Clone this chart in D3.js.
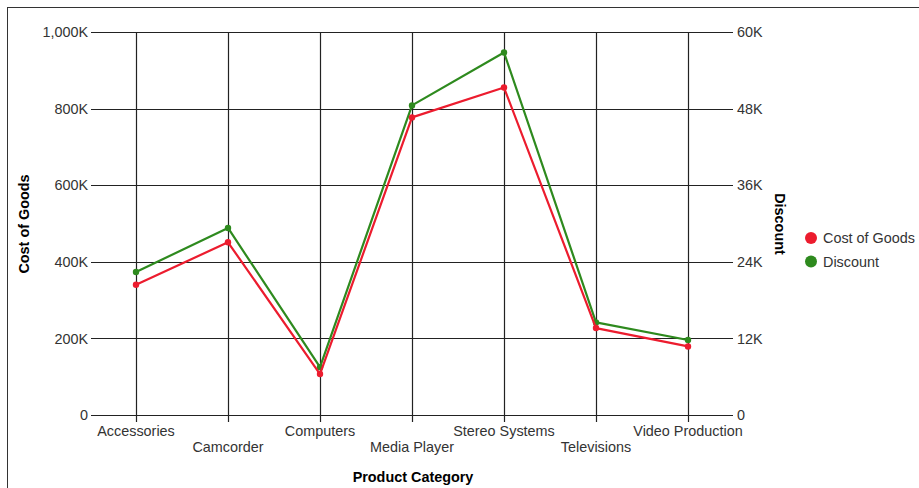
<!DOCTYPE html>
<html><head><meta charset="utf-8">
<script src="https://cdn.jsdelivr.net/npm/d3@7"></script>
<style>
body{margin:0;background:#fff;}
text{font-family:"Liberation Sans",Arial,sans-serif;}
</style></head>
<body><svg id="c" width="919" height="488"></svg>
<script>
const categories = ["Accessories","Camcorder","Computers","Media Player","Stereo Systems","Televisions","Video Production"];
const costOfGoods = [340000, 451000, 107000, 777000, 855000, 227000, 179000];
const discount = [22400, 29300, 7500, 48500, 56800, 14500, 11750];
const leftTicks = [0, 200000, 400000, 600000, 800000, 1000000];
const rightTicks = [0, 12000, 24000, 36000, 48000, 60000];
const seriesNames = ["Cost of Goods", "Discount"];
const seriesColors = ["#ec1c2e", "#2e8a1e"];
const FS = 14.4;

const svg = d3.select("#c");
svg.append("rect").attr("x",7.5).attr("y",7.5).attr("width",930).attr("height",500)
  .attr("fill","none").attr("stroke","#333").attr("stroke-width",1);

const L=90, R=734, T=32, B=415;
const x = d3.scaleBand().domain(categories).range([L,R]);
const yL = d3.scaleLinear().domain([0,1000000]).range([B,T]);
const yR = d3.scaleLinear().domain([0,60000]).range([B,T]);
const cx = d => x(d) + x.bandwidth()/2;

// left axis
const gL = svg.append("g").attr("transform",`translate(${L},0)`)
  .call(d3.axisLeft(yL).tickValues(leftTicks).tickSize(0).tickPadding(2)
    .tickFormat(d => d===0 ? "0" : d3.format(",")(d/1000)+"K"));
gL.select(".domain").remove();
gL.selectAll("text").attr("font-size",FS).attr("fill","#333").style("font-family","Liberation Sans, Arial");
// horizontal grid
svg.append("g").selectAll("line").data(leftTicks).join("line")
  .attr("x1",L+1).attr("x2",R-1).attr("y1",d=>Math.round(yL(d))+0.5).attr("y2",d=>Math.round(yL(d))+0.5)
  .attr("stroke","#222").attr("stroke-width",1.2);

// right axis
const gR = svg.append("g").attr("transform",`translate(${R},0)`)
  .call(d3.axisRight(yR).tickValues(rightTicks).tickSize(0).tickPadding(3)
    .tickFormat(d => d===0 ? "0" : (d/1000)+"K"));
gR.select(".domain").remove();
gR.selectAll("text").attr("font-size",FS).attr("fill","#333").style("font-family","Liberation Sans, Arial");

// vertical grid
svg.append("g").selectAll("line").data(categories).join("line")
  .attr("x1",d=>Math.round(cx(d))+0.5).attr("x2",d=>Math.round(cx(d))+0.5)
  .attr("y1",T).attr("y2",B+7)
  .attr("stroke","#222").attr("stroke-width",1.2);

// x labels staggered
svg.append("g").selectAll("text").data(categories).join("text")
  .attr("x",d=>cx(d)).attr("y",(d,i)=> i%2===0 ? 436 : 452)
  .attr("text-anchor","middle").attr("font-size",FS).attr("fill","#333")
  .text(d=>d);

// lines
const series = [
  {vals: costOfGoods, y: yL, color: seriesColors[0]},
  {vals: discount, y: yR, color: seriesColors[1]}
];
series.slice().reverse().forEach(s => {
  const line = d3.line().x((d,i)=>cx(categories[i])).y(d=>s.y(d));
  svg.append("path").datum(s.vals).attr("d",line).attr("fill","none")
    .attr("stroke",s.color).attr("stroke-width",2.2).attr("stroke-linejoin","round");
  svg.append("g").selectAll("circle").data(s.vals).join("circle")
    .attr("cx",(d,i)=>cx(categories[i])).attr("cy",d=>s.y(d)).attr("r",3.2).attr("fill",s.color);
});

// axis titles
svg.append("text").attr("transform","translate(29,224) rotate(-90)").attr("text-anchor","middle")
  .attr("font-size",FS).attr("font-weight","bold").attr("fill","#000").text("Cost of Goods");
svg.append("text").attr("transform","translate(775,224) rotate(90)").attr("text-anchor","middle")
  .attr("font-size",FS).attr("font-weight","bold").attr("fill","#000").text("Discount");
svg.append("text").attr("x",413).attr("y",482).attr("text-anchor","middle")
  .attr("font-size",FS).attr("font-weight","bold").attr("fill","#000").text("Product Category");

// legend
const lg = svg.append("g");
seriesNames.forEach((n,i)=>{
  lg.append("circle").attr("cx",811).attr("cy",238+i*23.5).attr("r",6).attr("fill",seriesColors[i]);
  lg.append("text").attr("x",823).attr("y",238+i*23.5+5).attr("font-size",FS).attr("fill","#333").text(n);
});
</script></body></html>
